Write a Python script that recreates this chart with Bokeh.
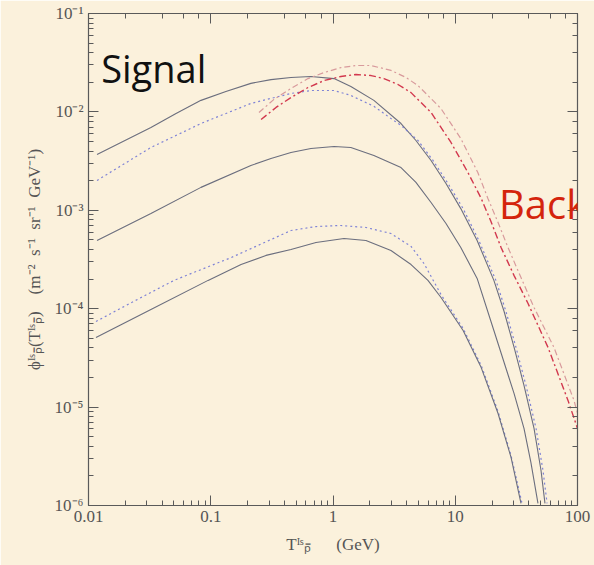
from bokeh.plotting import figure
from bokeh.models import LogAxis, CustomJSTickFormatter, Label, LogTicker, Range1d
from bokeh.embed import file_html
from bokeh.resources import INLINE

# ---- data (T in GeV, flux in m^-2 s^-1 sr^-1 GeV^-1) ----
sig1_x = [0.01174, 0.0324, 0.0520, 0.0832, 0.133, 0.213, 0.311, 0.453, 0.660, 1.02, 1.40, 2.16, 3.60, 4.77,
          6.34, 8.40, 11.1, 15.1, 20.7, 25.1, 30.3, 36.5, 44.1, 50.3, 54.2]
sig1_y = [3.69e-3, 6.93e-3, 9.64e-3, 1.31e-2, 1.61e-2, 1.95e-2, 2.13e-2, 2.24e-2, 2.29e-2, 2.18e-2, 1.81e-2,
          1.31e-2, 7.62e-3, 5.12e-3, 3.21e-3, 1.87e-3, 1.04e-3, 4.93e-4, 1.94e-4, 9.37e-5, 4.04e-5, 1.66e-5,
          6.07e-6, 2.27e-6, 1.05e-6]

sig1d_x = [0.01174, 0.0324, 0.0832, 0.213, 0.453, 0.660, 1.02, 1.40, 2.16, 2.98, 3.60, 4.96, 6.58, 8.73,
           11.6, 15.6, 21.5, 26.0, 31.4, 37.9, 45.8, 52.2, 56.4]
sig1d_y = [2.01e-3, 4.35e-3, 7.62e-3, 1.22e-2, 1.54e-2, 1.65e-2, 1.65e-2, 1.47e-2, 1.14e-2, 8.57e-3, 7.28e-3,
           5.12e-3, 3.21e-3, 1.87e-3, 1.04e-3, 4.93e-4, 1.94e-4, 9.37e-5, 4.04e-5, 1.66e-5, 6.07e-6, 2.27e-6,
           1.05e-6]

sig2_x = [0.01174, 0.0324, 0.0832, 0.213, 0.311, 0.453, 0.660, 1.02, 1.40, 2.16, 3.60, 4.77, 6.34, 8.40,
          11.1, 15.1, 20.7, 25.1, 30.3, 36.5, 41.6, 47.5]
sig2_y = [4.93e-4, 9.27e-4, 1.71e-3, 2.85e-3, 3.36e-3, 3.86e-3, 4.25e-3, 4.45e-3, 4.35e-3, 3.61e-3, 2.72e-3,
          1.92e-3, 1.20e-3, 7.35e-4, 4.19e-4, 2.03e-4, 6.00e-5, 2.84e-5, 1.37e-5, 6.07e-6, 2.73e-6, 1.05e-6]

sig3d_x = [0.01151, 0.0203, 0.0500, 0.147, 0.453, 0.726, 1.16, 1.86, 2.98, 4.35, 5.55, 7.65, 11.6, 16.3,
           22.4, 28.6, 35.2]
sig3d_y = [7.41e-5, 1.08e-4, 1.94e-4, 3.31e-4, 6.23e-4, 6.84e-4, 7.01e-4, 6.69e-4, 5.81e-4, 4.29e-4, 2.88e-4,
           1.39e-4, 6.30e-5, 2.65e-5, 9.02e-6, 3.22e-6, 1.05e-6]

sig3_x = [0.01151, 0.0324, 0.0951, 0.177, 0.283, 0.453, 0.726, 1.23, 1.86, 2.98, 4.35, 5.98, 7.65, 11.6,
          16.3, 22.4, 28.6, 34.5]
sig3_y = [5.09e-5, 9.82e-5, 1.94e-4, 2.81e-4, 3.48e-4, 4.00e-4, 4.71e-4, 5.16e-4, 4.93e-4, 3.90e-4, 2.81e-4,
          1.94e-4, 1.30e-4, 6.00e-5, 2.52e-5, 8.61e-6, 3.08e-6, 1.05e-6]

bkg1_x = [0.258, 0.342, 0.453, 0.625, 0.843, 1.16, 1.54, 2.05, 2.61, 3.40, 4.35, 6.34, 9.23, 12.7, 16.3, 19.6,
          23.7, 30.3, 39.4, 57.4, 83.6, 100.0]
bkg1_y = [8.37e-3, 1.11e-2, 1.40e-2, 1.77e-2, 2.08e-2, 2.29e-2, 2.40e-2, 2.34e-2, 2.18e-2, 1.90e-2, 1.57e-2,
          9.86e-3, 4.89e-3, 2.42e-3, 1.32e-3, 7.69e-4, 4.19e-4, 2.17e-4, 1.13e-4, 4.04e-5, 1.17e-5, 6.07e-6]

bkg2_x = [0.248, 0.329, 0.453, 0.625, 0.843, 1.16, 1.54, 2.05, 2.98, 3.95, 4.96, 7.65, 11.1, 15.3, 18.5, 22.4,
          27.0, 34.5, 44.1, 64.2, 93.6, 100.0]
bkg2_y = [9.86e-3, 1.34e-2, 1.73e-2, 2.18e-2, 2.51e-2, 2.82e-2, 2.96e-2, 2.96e-2, 2.64e-2, 2.24e-2, 1.85e-2,
          1.08e-2, 5.37e-3, 2.42e-3, 1.32e-3, 7.52e-4, 4.19e-4, 2.07e-4, 1.03e-4, 4.04e-5, 1.17e-5, 8.61e-6]

BG = "#fbf1dc"
AX = "#5a5a5a"
SOLID = "#6b6e7e"
DOT = "#7f83d6"
RED1 = "#d2384e"
RED2 = "#d89a9c"

p = figure(width=594, height=565, x_axis_type="log", y_axis_type="log",
           x_range=Range1d(0.01, 100), y_range=Range1d(1e-6, 1e-1),
           output_backend="svg", toolbar_location=None,
           min_border_left=88, min_border_right=17, min_border_top=13, min_border_bottom=60,
           background_fill_color=BG, border_fill_color=BG)
p.grid.visible = False
p.outline_line_color = AX
p.outline_line_width = 1.2

p.line(sig1_x, sig1_y, line_color=SOLID, line_width=1.1)
p.line(sig1d_x, sig1d_y, line_color=DOT, line_width=1.2, line_dash="2 3")
p.line(sig2_x, sig2_y, line_color=SOLID, line_width=1.1)
p.line(sig3d_x, sig3d_y, line_color=DOT, line_width=1.2, line_dash="2 3")
p.line(sig3_x, sig3_y, line_color=SOLID, line_width=1.1)
p.line(bkg2_x, bkg2_y, line_color=RED2, line_width=1.2, line_dash="6 3 2 3")
p.line(bkg1_x, bkg1_y, line_color=RED1, line_width=1.4, line_dash="7 3 2 3")

sup = """
const m = {'-':'\u207b','0':'\u2070','1':'\u00b9','2':'\u00b2','3':'\u00b3','4':'\u2074','5':'\u2075','6':'\u2076','7':'\u2077','8':'\u2078','9':'\u2079'};
const e = Math.round(Math.log10(tick));
return '10' + String(e).split('').map(c => m[c]).join('');
"""
xfmt = """
const e = Math.round(Math.log10(tick));
if (e < 0) { return tick.toFixed(-e); }
return String(Math.round(tick));
"""

def style(ax):
    ax.axis_line_color = AX
    ax.major_tick_line_color = AX
    ax.minor_tick_line_color = AX
    ax.major_tick_in = 10
    ax.major_tick_out = 0
    ax.minor_tick_in = 5
    ax.minor_tick_out = 0
    ax.major_label_text_font = "Liberation Serif"
    ax.major_label_text_font_size = "17px"
    ax.major_label_text_color = "#555555"
    ax.axis_label_text_font = "Liberation Serif"
    ax.axis_label_text_font_style = "normal"
    ax.axis_label_text_color = "#555555"

style(p.xaxis[0])
style(p.yaxis[0])
p.yaxis[0].formatter = CustomJSTickFormatter(code=sup)
p.xaxis[0].formatter = CustomJSTickFormatter(code=xfmt)
p.xaxis[0].axis_label = "T\u1d35\u02e2\u209a\u0304\u2003\u2002(GeV)"
p.xaxis[0].axis_label_text_font_size = "17px"
p.xaxis[0].axis_label_standoff = 10
p.yaxis[0].axis_label = ("\u03d5\u1d35\u02e2\u209a\u0304(T\u1d35\u02e2\u209a\u0304)\u2003"
                         "(m\u207b\u00b2\u2002s\u207b\u00b9\u2002sr\u207b\u00b9\u2002GeV\u207b\u00b9)")
p.yaxis[0].axis_label_text_font_size = "17px"
p.yaxis[0].axis_label_standoff = 8

top = LogAxis(ticker=LogTicker(), formatter=CustomJSTickFormatter(code="return '';"))
right = LogAxis(ticker=LogTicker(), formatter=CustomJSTickFormatter(code="return '';"))
style(top)
style(right)
top.major_label_standoff = 0
right.major_label_standoff = 0
p.add_layout(top, "above")
p.add_layout(right, "right")

p.add_layout(Label(x=0.0127, y=0.0282, text="Signal", text_font="Open Sans",
                   text_font_size="38px", text_color="#111111", text_baseline="alphabetic"))
p.add_layout(Label(x=22.8, y=1.17e-3, text="Back", text_font="Open Sans",
                   text_font_size="40px", text_color="#d4240c", text_baseline="alphabetic"))

open("out.html", "w").write(file_html(p, INLINE))
